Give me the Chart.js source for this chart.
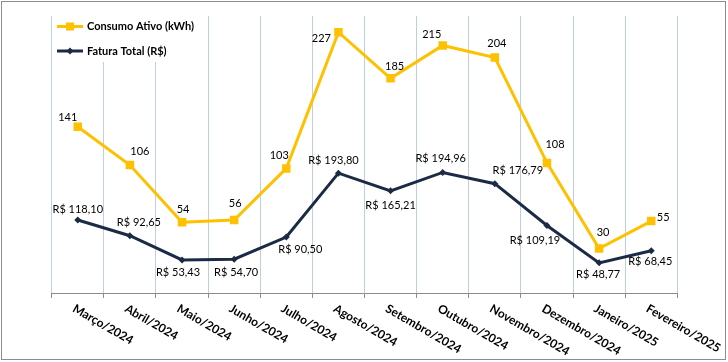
<!DOCTYPE html>
<html>
<head>
<meta charset="utf-8">
<script src="https://cdn.jsdelivr.net/npm/chart.js@4.4.1/dist/chart.umd.min.js"></script>
<style>
  html, body { margin: 0; padding: 0; background: #fff; }
</style>
</head>
<body>
<canvas id="consumoChart" width="728" height="362"></canvas>
<script>
// categorias e séries
const meses = [
  "Março/2024", "Abril/2024", "Maio/2024", "Junho/2024", "Julho/2024", "Agosto/2024",
  "Setembro/2024", "Outubro/2024", "Novembro/2024", "Dezembro/2024", "Janeiro/2025", "Fevereiro/2025",
];
const consumoKwh = [141, 106, 54, 56, 103, 227, 185, 215, 204, 108, 30, 55];
const faturaReais = [118.10, 92.65, 53.43, 54.70, 90.50, 193.80, 165.21, 194.96, 176.79, 109.19, 48.77, 68.45];

// deslocamento dos rótulos de dados (dx, dy) em relação ao ponto
const offsetConsumo = [[-10, -9], [10, -14], [1, -13], [1, -17], [-7, -13], [-17, 6], [4, -12], [-11, -11], [2, -14], [8, -18], [4, -16], [12, -4]];
const offsetFatura = [[0, -11], [9, -13], [-4, 12], [2, 13], [14, 12], [-5, -13], [0, 15], [-2, -14], [23, -13], [-12, 15], [-1, 12], [-1, 11]];

const AMARELO = "#FFC000";
const AZUL = "#1C2B45";
const FONTE = "Lato, 'Open Sans', sans-serif";

const formatoReal = (v) => "R$ " + v.toFixed(2).replace(".", ",");

// fundo, borda, rótulos e legenda
const desenhoExtra = {
  id: "desenhoExtra",
  beforeDraw(chart) {
    const { ctx, width, height } = chart;
    ctx.save();
    ctx.fillStyle = "#fff";
    ctx.fillRect(0, 0, width, height);
    ctx.restore();
  },
  afterDatasetsDraw(chart) {
    const { ctx } = chart;
    ctx.save();
    ctx.font = "11px " + FONTE;
    ctx.fillStyle = "#000";
    ctx.textAlign = "center";
    ctx.textBaseline = "middle";
    chart.getDatasetMeta(0).data.forEach((pt, i) => {
      const [dx, dy] = offsetConsumo[i];
      ctx.fillText(String(consumoKwh[i]), pt.x + dx, pt.y + dy);
    });
    chart.getDatasetMeta(1).data.forEach((pt, i) => {
      const [dx, dy] = offsetFatura[i];
      ctx.fillText(formatoReal(faturaReais[i]), pt.x + dx, pt.y + dy);
    });
    ctx.restore();
  },
  afterDraw(chart) {
    const { ctx } = chart;
    const xScale = chart.scales.x;

    // rótulos do eixo x inclinados
    ctx.save();
    ctx.font = "bold 12px " + FONTE;
    ctx.fillStyle = "#000";
    ctx.textAlign = "left";
    ctx.textBaseline = "alphabetic";
    meses.forEach((m, i) => {
      const x = xScale.getPixelForTick(i);
      ctx.save();
      ctx.translate(x - 6, 311);
      ctx.rotate(Math.PI / 6);
      ctx.fillText(m, 0, 0);
      ctx.restore();
    });
    ctx.restore();

    // legenda
    ctx.save();
    ctx.fillStyle = "#fff";
    ctx.fillRect(55, 14, 146, 48);
    const itens = [
      { texto: chart.data.datasets[0].label, cor: AMARELO, y: 26.5, estilo: "rect" },
      { texto: chart.data.datasets[1].label, cor: AZUL, y: 51, estilo: "rectRot" },
    ];
    itens.forEach((it) => {
      ctx.strokeStyle = it.cor;
      ctx.lineWidth = 3;
      ctx.beginPath();
      ctx.moveTo(57, it.y);
      ctx.lineTo(83, it.y);
      ctx.stroke();
      ctx.fillStyle = it.cor;
      if (it.estilo === "rect") {
        ctx.fillRect(66, it.y - 4, 8, 8);
      } else {
        ctx.beginPath();
        ctx.moveTo(70, it.y - 3.5);
        ctx.lineTo(73.5, it.y);
        ctx.lineTo(70, it.y + 3.5);
        ctx.lineTo(66.5, it.y);
        ctx.closePath();
        ctx.fill();
      }
      ctx.fillStyle = "#000";
      ctx.font = "bold 11px " + FONTE;
      ctx.textAlign = "left";
      ctx.textBaseline = "middle";
      ctx.fillText(it.texto, 87, it.y);
    });

    // borda do gráfico
    ctx.strokeStyle = "#8C8C8C";
    ctx.lineWidth = 1;
    ctx.strokeRect(1.5, 1.5, 724, 358);
    ctx.restore();
  },
};

window.addEventListener("DOMContentLoaded", () => {
  const canvas = document.getElementById("consumoChart");
  new Chart(canvas, {
    type: "line",
    data: {
      labels: meses,
      datasets: [
        {
          label: "Consumo Ativo (kWh)",
          data: consumoKwh,
          yAxisID: "y",
          borderColor: AMARELO,
          backgroundColor: AMARELO,
          borderWidth: 3,
          pointStyle: "rect",
          pointRadius: 6,
          pointBorderWidth: 0,
          tension: 0,
        },
        {
          label: "Fatura Total (R$)",
          data: faturaReais,
          yAxisID: "y2",
          borderColor: AZUL,
          backgroundColor: AZUL,
          borderWidth: 3,
          pointStyle: "rectRot",
          pointRadius: 3.5,
          pointBorderWidth: 0,
          tension: 0,
        },
      ],
    },
    options: {
      responsive: false,
      animation: false,
      layout: { padding: { left: 51.7, right: 50.7, top: 16, bottom: 0 } },
      scales: {
        x: {
          offset: true,
          grid: { offset: true, color: "#BFCDE9", tickColor: "#8C8C8C", tickLength: 5 },
          border: { color: "#8C8C8C" },
          ticks: { display: false },
          afterFit: (s) => { s.height = 69; },
        },
        y: { display: false, min: -10.5, max: 241.8 },
        y2: { display: false, min: 0, max: 448 },
      },
      plugins: {
        legend: { display: false },
        tooltip: { enabled: false },
      },
    },
    plugins: [desenhoExtra],
  });
});
</script>
</body>
</html>
